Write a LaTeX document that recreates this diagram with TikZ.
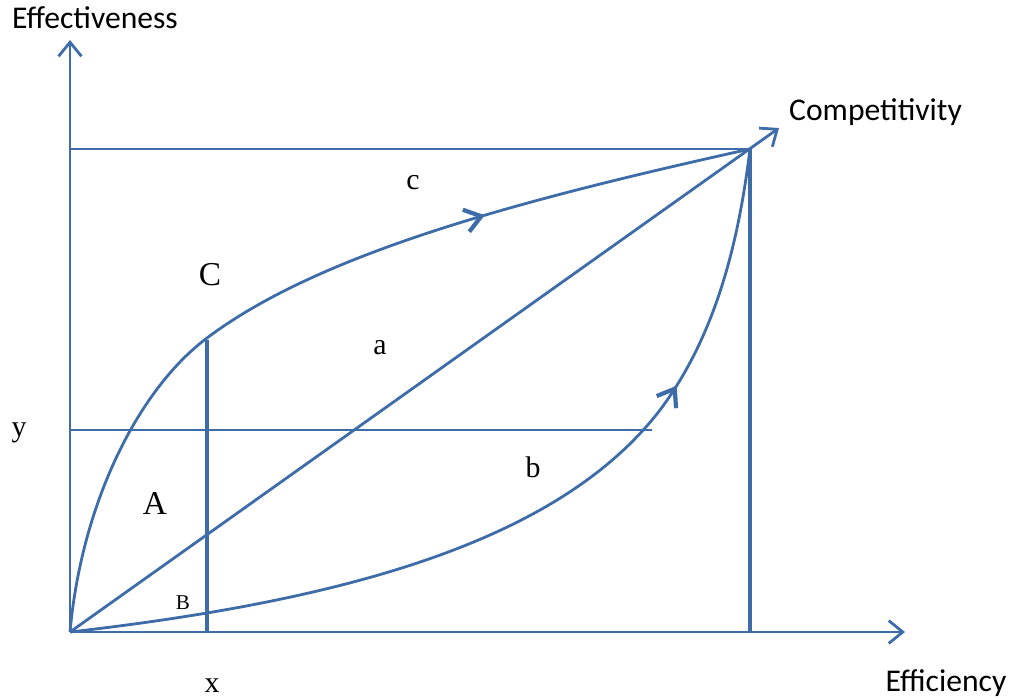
\documentclass[tikz,border=0pt]{standalone}
\usepackage{fontspec}
\setsansfont{Carlito}
\setmainfont{Liberation Serif}
\usetikzlibrary{arrows.meta,decorations.markings}
\definecolor{lineblue}{RGB}{62,108,168}

\tikzset{
  axis/.style={lineblue, line width=1.6pt, -{Straight Barb[length=8pt,width=13pt,line width=1.6pt]}},
  guide/.style={lineblue, line width=1.6pt},
  post/.style={lineblue, line width=2.2pt},
  curve/.style={lineblue, line width=1.6pt},
  axislabel/.style={font=\sffamily\fontsize{18}{21}\selectfont, text=black},
  letter/.style={font=\rmfamily\fontsize{17}{19}\selectfont, text=black},
  midarrow/.style={postaction={decorate}, decoration={markings,
    mark=at position #1 with {\arrow{Straight Barb[length=9pt,width=13pt,line width=2.4pt]}}}}
}

\begin{document}
\begin{tikzpicture}[x=0.02cm, y=-0.02cm]
    \useasboundingbox (0,0) rectangle (1011,697);
    % key points
    \coordinate (origin) at (70,632);
    \coordinate (peak) at (750,149);
    \coordinate (ytop) at (70,40);
    \coordinate (xend) at (905,632);
    \coordinate (compend) at (779,128);
    \coordinate (ylevel) at (70,430);
    \coordinate (yend) at (652,430);
    \coordinate (xtop) at (207,340);
    \coordinate (xfoot) at (207,632);
    \coordinate (pfoot) at (750,632);
    \coordinate (ptop) at (70,149);

    % axes
    \draw[axis] (origin) -- (ytop);
    \draw[axis] (origin) -- (xend);

    % frame lines
    \draw[guide] (ptop) -- (peak);
    \draw[post] (peak) -- (pfoot);
    \draw[guide] (ylevel) -- (yend);
    \draw[post] (xtop) -- (xfoot);

    % diagonal to competitivity
    \draw[axis] (origin) -- (compend);

    % upper and lower paths
    \draw[curve, midarrow=0.70] (origin) .. controls (82,500) and (140,388) .. (207,338)
        .. controls (320,253) and (520,200) .. (peak);
    \draw[curve, midarrow=0.73] (origin) .. controls (350,600) and (560,540) .. (660,410)
        .. controls (720,330) and (740,230) .. (peak);

    % labels
    \node[axislabel] (effect) at (95,18) {Effectiveness};
    \node[axislabel, anchor=west] (compet) at (783,112) {Competitivity};
    \node[axislabel] (effic) at (946,683) {Efficiency};
    \node[letter] (xlab) at (212,686) {x};
    \node[letter] (ylab) at (19,433) {y};
    \node[letter] (clow) at (413,183) {c};
    \node[letter, font=\rmfamily\fontsize{19}{21}\selectfont] (cup) at (210,275) {C};
    \node[letter] (alab) at (380,348) {a};
    \node[letter] (blab) at (533,467) {b};
    \node[letter, font=\rmfamily\fontsize{19}{21}\selectfont] (Alab) at (155,503) {A};
    \node[letter, font=\rmfamily\fontsize{12}{14}\selectfont] (Blab) at (183,603) {B};
\end{tikzpicture}
\end{document}
